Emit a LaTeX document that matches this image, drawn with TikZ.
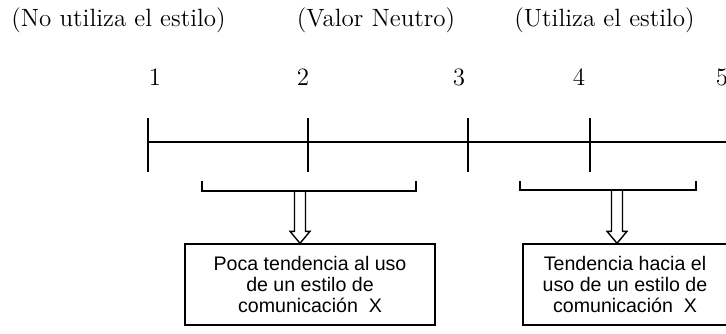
\documentclass[tikz,border=0pt]{standalone}
\usepackage{fontspec}
\newfontfamily\boxfont{Liberation Sans}
\usetikzlibrary{calc}
\tikzset{
  heading/.style={font=\fontsize{12.5}{14}\selectfont, inner sep=0pt},
  numlabel/.style={font=\fontsize{12.5}{14}\selectfont, inner sep=0pt},
  axisline/.style={line width=0.75pt},
  tickline/.style={line width=0.7pt},
  bracketline/.style={line width=0.7pt},
  hollowarrow/.style={line width=0.7pt},
  infobox/.style={draw, line width=0.7pt, align=center, inner sep=0pt,
    minimum height=40.5pt, font=\boxfont\fontsize{9.8}{10.5}\selectfont}
}
\begin{document}
\begin{tikzpicture}[x=0.5pt,y=-0.5pt]
\useasboundingbox (0,0) rectangle (726,333);
% headings
\node[heading] (h1) at (118.5,20) {(No utiliza el estilo)};
\node[heading] (h2) at (376,20) {(Valor Neutro)};
\node[heading] (h3) at (604.5,20) {(Utiliza el estilo)};
% numbers
\node[numlabel] (n1) at (155,77) {1};
\node[numlabel] (n2) at (303,77) {2};
\node[numlabel] (n3) at (459,77) {3};
\node[numlabel] (n4) at (579,77) {4};
\node[numlabel] (n5) at (722,77) {5};
% axis
\coordinate (axL) at (148,142);
\coordinate (axR) at (740,142);
\draw[axisline] (axL) -- (axR);
\foreach \i/\x in {1/148,2/308,3/468,4/590}{
  \coordinate (tt\i) at (\x,118);
  \coordinate (tb\i) at (\x,172);
  \draw[tickline] (tt\i) -- (tb\i);
}
% brackets
\coordinate (b1a) at (202,181);
\coordinate (b1b) at (416,181);
\coordinate (b2a) at (520,181);
\coordinate (b2b) at (696,181);
\draw[bracketline] (b1a) -- ++(0,10) -| (b1b);
\draw[bracketline] (b2a) -- ++(0,9) -| (b2b);
% boxes
\node[infobox, minimum width=125pt] (box1) at (310,284.5)
  {Poca tendencia al uso\\de un estilo de\\comunicación\ \ X};
\node[infobox, minimum width=102pt] (box2) at (625,284.5)
  {Tendencia hacia el\\uso de un estilo de\\comunicación\ \ X};
% hollow arrows
\coordinate (a1s) at (300,191);
\coordinate (a1e) at (box1.north -| a1s);
\coordinate (a2s) at (617,190);
\coordinate (a2e) at (box2.north -| a2s);
\foreach \s/\e in {a1s/a1e,a2s/a2e}{
  \draw[hollowarrow] ($(\s)+(-5.5,0)$) -- ($(\e)+(-5.5,-12)$) -- ($(\e)+(-10,-12)$)
    -- (\e) -- ($(\e)+(10,-12)$) -- ($(\e)+(5.5,-12)$) -- ($(\s)+(5.5,0)$);
}
\end{tikzpicture}
\end{document}
